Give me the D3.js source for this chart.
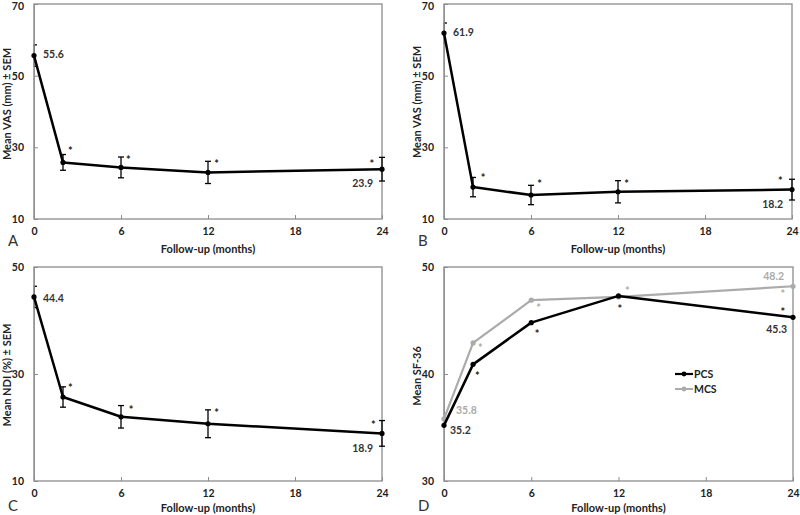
<!DOCTYPE html>
<html><head><meta charset="utf-8">
<script src="https://cdn.jsdelivr.net/npm/d3@7"></script>
<style>
html,body{margin:0;padding:0;background:#fff;}
svg{display:block;}
text{font-family:Lato,"Open Sans",sans-serif;}
</style></head>
<body>
<svg id="chart" width="800" height="515"></svg>
<script>
// ---- data ----
const months = [0, 2, 6, 12, 24];
const xTicks = [0, 6, 12, 18, 24];

const vasA = [55.6, 25.8, 24.4, 23.0, 23.9];
const semA = [3.0, 2.2, 2.9, 3.1, 3.3];
const starA = [[2.5, 29.4], [6.5, 26.9], [12.6, 25.8], [23.3, 25.8]];

const vasB = [61.9, 18.9, 16.7, 17.6, 18.2];
const semB = [2.8, 2.7, 2.7, 3.1, 2.9];
const starB = [[2.7, 21.9], [6.6, 20.3], [12.6, 20.3], [23.2, 21.1]];

const ndiC = [44.4, 25.7, 22.0, 20.7, 18.9];
const semC = [2.0, 1.9, 2.1, 2.6, 2.4];
const starC = [[2.5, 27.6], [6.7, 23.5], [12.6, 22.9], [23.4, 20.7]];

const pcsD = [35.2, 40.9, 44.8, 47.3, 45.3];
const mcsD = [35.8, 42.9, 46.9, 47.2, 48.2];
const starPcsD = [[2.3, 40.0], [6.4, 43.9], [12.1, 46.2], [23.3, 45.9]];
const starMcsD = [[2.5, 42.6], [6.5, 46.3], [12.6, 47.9], [23.3, 47.6]];

const yTicksAB = [10, 30, 50, 70];
const yTicksC = [10, 30, 50];
const yTicksD = [30, 40, 50];

const svg = d3.select("#chart");
const BORDER = "#8c8c8c";
const GRAY = "#ababab";

function panel(cfg) {
  const x = d3.scaleLinear().domain([0, 24]).range([cfg.x0, cfg.x1]);
  const y = d3.scaleLinear().domain(cfg.yDomain).range([cfg.yBot, cfg.yTop]);
  const g = svg.append("g");

  // box
  g.append("rect").attr("x", cfg.x0).attr("y", cfg.yTop).attr("width", cfg.x1 - cfg.x0).attr("height", cfg.yBot - cfg.yTop)
    .attr("fill", "none").attr("stroke", BORDER).attr("stroke-width", 1.3);

  // error bars
  cfg.series.forEach(s => {
    if (!s.sem) return;
    const eg = g.append("g");
    eg.selectAll("g").data(months.map((m, i) => [m, s.values[i], s.sem[i]])).join("g")
      .each(function(d) {
        const e = d3.select(this);
        const cx = x(d[0]);
        e.append("line").attr("x1", cx).attr("x2", cx).attr("y1", y(d[1] - d[2])).attr("y2", y(d[1] + d[2]))
          .attr("stroke", s.color).attr("stroke-width", 1.3);
        [d[1] - d[2], d[1] + d[2]].forEach(v => {
          e.append("line").attr("x1", cx - 3).attr("x2", cx + 3).attr("y1", y(v)).attr("y2", y(v))
            .attr("stroke", s.color).attr("stroke-width", 1.3);
        });
      });
  });

  // value axis line drawn over the error bars
  g.append("line").attr("x1", cfg.x0).attr("x2", cfg.x0).attr("y1", cfg.yTop).attr("y2", cfg.yBot)
    .attr("stroke", BORDER).attr("stroke-width", 1.6);
  g.append("rect").attr("x", cfg.x0 - 4).attr("y", cfg.yTop).attr("width", 3.2).attr("height", cfg.yBot - cfg.yTop)
    .attr("fill", "#fff");

  // axes
  const xa = g.append("g").attr("transform", `translate(0,${cfg.yBot})`)
    .call(d3.axisBottom(x).tickValues(xTicks).tickSizeInner(-4).tickSizeOuter(0).tickPadding(9));
  const ya = g.append("g").attr("transform", `translate(${cfg.x0},0)`)
    .call(d3.axisLeft(y).tickValues(cfg.yTicks).tickSizeInner(-4).tickSizeOuter(0).tickPadding(10));
  [xa, ya].forEach(a => {
    a.select(".domain").remove();
    a.selectAll("line").attr("stroke", BORDER);
    a.selectAll("text").attr("font-size", 10.5).attr("font-weight", "bold").attr("fill", "#222")
      .attr("font-family", "Lato, 'Open Sans', sans-serif");
  });
  ya.selectAll(".tick").filter(d => y(d) < 8).select("text").attr("dy", "0.52em");

  // series
  cfg.series.forEach(s => {
    const pts = months.map((m, i) => [m, s.values[i]]);
    g.append("path").datum(pts)
      .attr("d", d3.line().x(d => x(d[0])).y(d => y(d[1])))
      .attr("fill", "none").attr("stroke", s.color).attr("stroke-width", s.width)
      .attr("stroke-linejoin", "round");
    g.append("g").selectAll("circle").data(pts).join("circle")
      .attr("cx", d => x(d[0])).attr("cy", d => y(d[1])).attr("r", 2.6).attr("fill", s.color);
    if (s.stars) {
      g.append("g").selectAll("text").data(s.stars).join("text")
        .attr("x", d => x(d[0])).attr("y", d => y(d[1])).attr("dy", "0.5em")
        .attr("text-anchor", "middle").attr("font-size", 11).attr("font-weight", "bold")
        .attr("fill", s.starColor || s.color).text("*");
    }
    (s.labels || []).forEach(l => {
      const i = l.i;
      g.append("text").attr("x", x(months[i]) + l.dx).attr("y", y(s.values[i]) + l.dy)
        .attr("dominant-baseline", "central")
        .attr("text-anchor", l.anchor).attr("font-size", 10.5).attr("font-weight", "bold")
        .attr("fill", s.labelColor || "#333").text(s.values[i].toFixed(1));
    });
  });

  // titles
  g.append("text").attr("x", (cfg.x0 + cfg.x1) / 2).attr("y", cfg.yBot + cfg.xTitleDy)
    .attr("text-anchor", "middle").attr("dominant-baseline", "central")
    .attr("font-size", 11).attr("font-weight", "bold").attr("fill", "#222").text("Follow-up (months)");
  g.append("text").attr("transform", `translate(${cfg.x0 - 28},${cfg.yTitleC}) rotate(-90)`)
    .attr("text-anchor", "middle").attr("dominant-baseline", "central")
    .attr("font-size", 11).attr("font-weight", "bold").attr("fill", "#222").text(cfg.yTitle);
  g.append("text").attr("x", cfg.x0 - 26).attr("y", cfg.yBot + cfg.letterDy)
    .attr("dominant-baseline", "central")
    .attr("font-family", "'Liberation Sans', Arial, sans-serif")
    .attr("font-size", 15).attr("fill", "#333").text(cfg.letter);

  if (cfg.legend) {
    cfg.legend.forEach((l, k) => {
      const ly = cfg.legendY + k * 15, lx = cfg.legendX;
      g.append("line").attr("x1", lx).attr("x2", lx + 18).attr("y1", ly).attr("y2", ly)
        .attr("stroke", l.color).attr("stroke-width", l.width);
      g.append("circle").attr("cx", lx + 9).attr("cy", ly).attr("r", 2.4).attr("fill", l.color);
      g.append("text").attr("x", lx + 19).attr("y", ly).attr("dominant-baseline", "central")
        .attr("font-size", 10.5).attr("font-weight", "bold").attr("fill", "#222").text(l.name);
    });
  }
}

panel({
  x0: 34, x1: 382, yTop: 4, yBot: 219, yDomain: [10, 70], yTicks: yTicksAB,
  yTitle: "Mean VAS (mm) ± SEM", yTitleC: 104, letter: "A", xTitleDy: 29, letterDy: 21,
  series: [{ values: vasA, sem: semA, color: "#000", width: 2.5, stars: starA, starColor: "#222",
    labels: [{ i: 0, dx: 9, dy: -2, anchor: "start" }, { i: 4, dx: -9, dy: 14, anchor: "end" }] }]
});
panel({
  x0: 444, x1: 792, yTop: 4, yBot: 219, yDomain: [10, 70], yTicks: yTicksAB,
  yTitle: "Mean VAS (mm) ± SEM", yTitleC: 102, letter: "B", xTitleDy: 29, letterDy: 21,
  series: [{ values: vasB, sem: semB, color: "#000", width: 2.5, stars: starB, starColor: "#222",
    labels: [{ i: 0, dx: 9, dy: -1, anchor: "start" }, { i: 4, dx: -9, dy: 14, anchor: "end" }] }]
});
panel({
  x0: 34, x1: 382, yTop: 267, yBot: 481, yDomain: [10, 50], yTicks: yTicksC,
  yTitle: "Mean NDI (%) ± SEM", yTitleC: 375, letter: "C", xTitleDy: 26, letterDy: 24,
  series: [{ values: ndiC, sem: semC, color: "#000", width: 2.5, stars: starC, starColor: "#222",
    labels: [{ i: 0, dx: 9, dy: 1, anchor: "start" }, { i: 4, dx: -9, dy: 15, anchor: "end" }] }]
});
panel({
  x0: 444, x1: 793, yTop: 267, yBot: 481, yDomain: [30, 50], yTicks: yTicksD,
  yTitle: "Mean SF-36", yTitleC: 376, letter: "D", xTitleDy: 26, letterDy: 24,
  legendX: 675, legendY: 374,
  legend: [{ name: "PCS", color: "#000", width: 2.2 }, { name: "MCS", color: GRAY, width: 2 }],
  series: [
    { values: mcsD, color: GRAY, width: 2.2, stars: starMcsD, labelColor: GRAY,
      labels: [{ i: 0, dx: 12, dy: -9, anchor: "start" }, { i: 4, dx: -9, dy: -10, anchor: "end" }] },
    { values: pcsD, color: "#000", width: 2.5, stars: starPcsD, starColor: "#222",
      labels: [{ i: 0, dx: 6, dy: 5, anchor: "start" }, { i: 4, dx: -6, dy: 12, anchor: "end" }] }
  ]
});
</script>
</body></html>
